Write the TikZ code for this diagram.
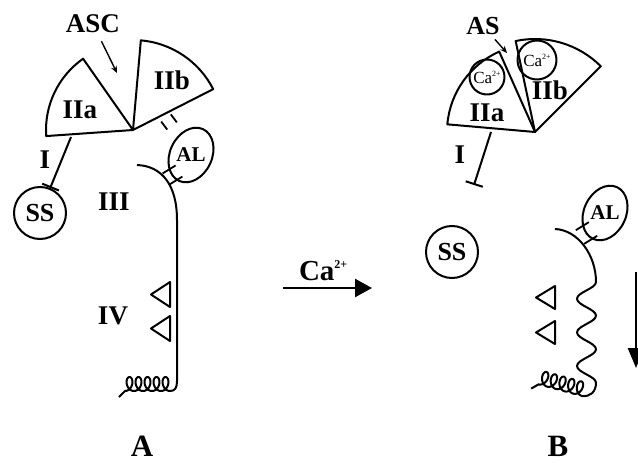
\documentclass[tikz,border=0pt]{standalone}
\usepackage{fontspec}
\setmainfont{Liberation Serif}
\usetikzlibrary{positioning}
\usetikzlibrary{calc}
\usetikzlibrary{arrows.meta}
\usetikzlibrary{shapes.geometric}
\tikzset{
	lbl/.style={inner sep=0pt, font=\fontsize{27}{27}\selectfont\bfseries},
	big/.style={inner sep=0pt, font=\fontsize{31}{31}\selectfont\bfseries},
	site/.style={draw, circle, inner sep=0pt, minimum size=52pt, font=\fontsize{26}{26}\selectfont\bfseries},
	alring/.style={draw, ellipse, inner sep=0pt, minimum width=42pt, minimum height=57pt, rotate=-25},
	altext/.style={inner sep=0pt, font=\fontsize{21}{21}\selectfont\bfseries},
	ion/.style={draw, circle, inner sep=0pt, font=\fontsize{17}{17}\selectfont},
	bond/.style={line width=1.8pt},
	inhibit/.style={-{Bar[width=18pt]}},
	pointer/.style={-{Stealth[length=7pt, width=6pt]}, line width=1.4pt},
}
\newcommand{\caion}{Ca\raisebox{7pt}{\fontsize{8}{8}\selectfont 2+}}
% two short parallel strokes between #1 and #2, #3 off the middle line
\newcommand{\dbond}[3]{%
	\draw[bond] ($(#1)!#3!90:(#2)$) -- ($(#2)!#3!-90:(#1)$);
	\draw[bond] ($(#1)!#3!-90:(#2)$) -- ($(#2)!#3!90:(#1)$);
}
% coiled end of a chain, five turns running to the left of the origin
\newcommand{\coiltail}{%
	\draw plot[domain=0:1800, samples=220, smooth, variable=\t]
		({-\t/40 - 5*sin(\t)}, {7*(1-cos(\t))}) -- (-51,-6);
}

\begin{document}
\begin{tikzpicture}[x=1pt, y=1pt, line width=2pt, line join=round]
	\useasboundingbox (0,0) rectangle (638,-463);

	%%% A: resting state
	\draw (133,-130) -- ++(184:87) arc[start angle=184, end angle=125, radius=87] -- cycle;
	\draw (133,-130) -- ++(27:90) arc[start angle=27, end angle=85, radius=90] -- cycle;
	\node (iiaA) [lbl] at (80,-110) {IIa};
	\node (iibA) [lbl] at (172,-80) {IIb};

	\node (asc) [lbl] at (93,-24) {ASC};
	\coordinate (ascTip) at (117,-73);
	\draw[pointer, shorten <=8pt] (asc) -- (ascTip);

	\node (ssA) [site] at (40,-213) {SS};
	\coordinate (iA) at (71,-137);
	\draw[inhibit] (iA) -- (ssA);
	\node (labIA) [lbl] at (45,-160) {I};

	\node (alA) [alring] at (191,-155) {};
	\node (alAtxt) [altext] at (alA) {AL};
	\coordinate (hingeA) at (166,-118);
	\coordinate (hookA) at (172,-126);
	\dbond{hingeA}{hookA}{6pt}
	\coordinate (chainA) at (166,-179);
	\coordinate (latchA) at (179,-171);
	\dbond{chainA}{latchA}{6.5pt}

	% straight chain
	\draw (137,-165) .. controls (162,-166) and (177,-185) .. (177,-220) -- (177,-381)
		.. controls (177,-388) and (175,-391) .. (170,-391);
	\begin{scope}[shift={(170,-391)}]
		\coiltail
	\end{scope}
	\foreach \y in {-294.5,-328.5}
		\draw (170,\y+12.5) -- (151,\y) -- (170,\y-12.5) -- cycle;

	\node (iiiA) [lbl] at (114,-202) {III};
	\node (ivA) [lbl] at (113,-316) {IV};
	\node (capA) [big] at (142,-446) {A};

	%%% calcium binding
	\coordinate (caFrom) at (283,-288);
	\coordinate (caTo) at (372,-288);
	\draw[line width=2.6pt, -{Triangle[length=17pt, width=18pt]}] (caFrom) -- (caTo);
	\node (ca) [inner sep=0pt, anchor=base west, font=\fontsize{29}{29}\selectfont\bfseries] at (298,-280)
		{Ca\raisebox{12pt}{\fontsize{12}{12}\selectfont 2+}};

	%%% B: calcium bound
	\draw (535,-132) -- ++(175:88) arc[start angle=175, end angle=114, radius=88] -- cycle;
	\draw (535,-132) -- ++(45:93) arc[start angle=45, end angle=102, radius=93] -- cycle;
	\node (caIIa) [ion, minimum size=35pt] at (487,-77) {\caion};
	\node (caIIb) [ion, minimum size=39pt] at (537,-60) {\caion};
	\node (iiaB) [lbl] at (487,-113) {IIa};
	\node (iibB) [lbl] at (550,-90) {IIb};

	\node (as) [lbl, font=\fontsize{26}{26}\selectfont\bfseries] at (483,-26) {AS};
	\coordinate (asTip) at (507,-53);
	\draw[pointer, shorten <=5pt] (as) -- (asTip);

	\coordinate (iB) at (491,-132);
	\coordinate (stopB) at (474,-185);
	\draw[inhibit] (iB) -- (stopB);
	\node (labIB) [lbl] at (460,-155) {I};
	\node (ssB) [site] at (452,-252) {SS};

	\node (alB) [alring] at (605,-213) {};
	\node (alBtxt) [altext] at (alB) {AL};
	\coordinate (chainB) at (580,-237);
	\coordinate (latchB) at (593,-229);
	\dbond{chainB}{latchB}{8pt}

	% wavy chain
	\draw (555,-229) .. controls (578,-230) and (596,-255) .. (596,-282)
		.. controls (596,-288.5) and (577,-292.3) .. (577,-298.8)
		.. controls (577,-305.3) and (596,-309.1) .. (596,-315.6)
		.. controls (596,-322.1) and (577,-325.9) .. (577,-332.4)
		.. controls (577,-338.9) and (596,-342.7) .. (596,-349.2)
		.. controls (596,-355.7) and (577,-359.5) .. (577,-366)
		.. controls (577,-372.5) and (596,-376.3) .. (596,-382.8)
		.. controls (596,-392) and (590,-397) .. (582,-396);
	\begin{scope}[shift={(582,-396)}, rotate=-15]
		\coiltail
	\end{scope}
	\foreach \y in {-297.5,-332.5}
		\draw (555,\y+11.5) -- (536,\y) -- (555,\y-11.5) -- cycle;
	\node (capB) [big] at (558,-446) {B};

	\coordinate (dropFrom) at (636,-272);
	\coordinate (dropTo) at (636,-368);
	\draw[line width=2.4pt, -{Triangle[length=20pt, width=16pt]}] (dropFrom) -- (dropTo);
\end{tikzpicture}
\end{document}
